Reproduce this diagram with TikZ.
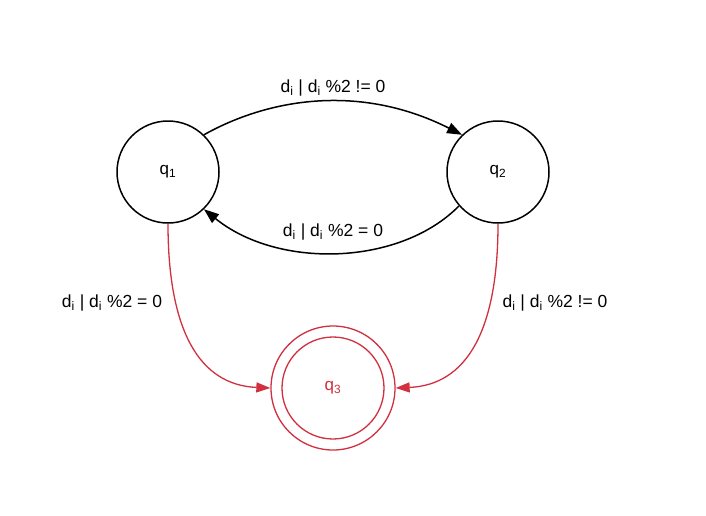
\documentclass[tikz,border=0pt]{standalone}
\usepackage{fontspec}
\setmainfont{Liberation Sans}
\usetikzlibrary{arrows.meta}
\definecolor{accred}{RGB}{208,48,64}
\begin{document}
\begin{tikzpicture}[x=1pt,y=-1pt,
  state/.style={circle,draw=black,line width=1.5pt,minimum size=102pt,inner sep=0pt,font=\fontsize{17}{19}\selectfont},
  lbl/.style={font=\fontsize{17.5}{19}\selectfont,inner sep=0pt},
  blk/.style={line width=1.5pt,-{Triangle[length=15pt,width=11pt]}},
  redln/.style={draw=accred,line width=1.3pt,-{Triangle[length=14pt,width=10pt]}}
]
\useasboundingbox[fill=white] (0,0) rectangle (706,515);
\node[state] (q1) at (168,172) {q\textsubscript{1}};
\node[state] (q2) at (498,172) {q\textsubscript{2}};
\node[state,draw=accred,text=accred,line width=1.3pt] (q3) at (333,388) {q\textsubscript{3}};
\node[circle,draw=accred,line width=1.3pt,minimum size=124pt,inner sep=0pt] (q3o) at (333,388) {};
\draw[blk] (q1.46) .. controls +(66,-37) and +(-101,-51) .. (q2.134);
\draw[blk] (q2.221) .. controls +(-59,60) and +(74,60) .. (q1.314);
\draw[redln] (q1.south) .. controls +(0,107) and +(-71,-3) .. (q3o.west);
\draw[redln] (q2.south) .. controls +(0,107) and +(71,-3) .. (q3o.east);
\node[lbl] (l12) at (333,88) {d\textsubscript{i} | d\textsubscript{i} \%2 != 0};
\node[lbl] (l21) at (333,232) {d\textsubscript{i} | d\textsubscript{i} \%2 = 0};
\node[lbl] (l13) at (112,303) {d\textsubscript{i} | d\textsubscript{i} \%2 = 0};
\node[lbl] (l23) at (555,303) {d\textsubscript{i} | d\textsubscript{i} \%2 != 0};
\end{tikzpicture}
\end{document}
